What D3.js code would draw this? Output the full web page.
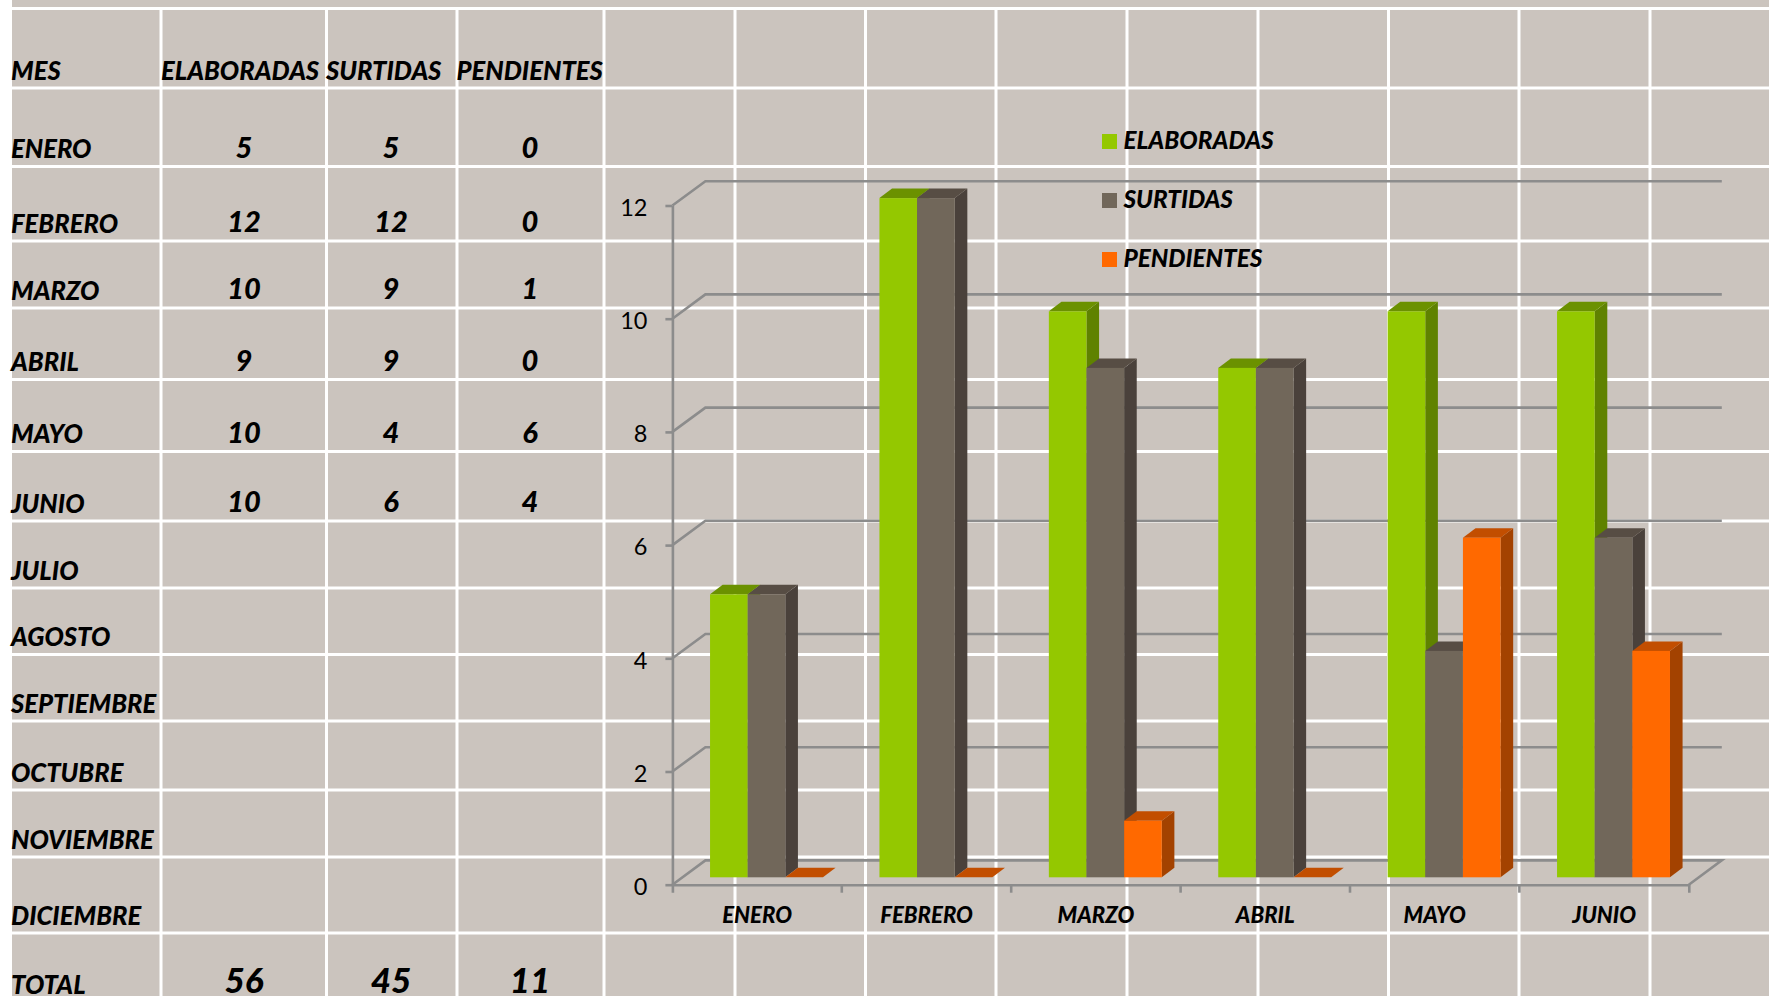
<!DOCTYPE html>
<html>

<head>
    <meta charset="utf-8" />
    <title>Ordenes por mes</title>
    <script src="https://cdn.jsdelivr.net/npm/d3@7"></script>
    <style>
        body { margin: 0; background: #fff; }
        svg { display: block; }
        text { font-family: Lato, "Open Sans", sans-serif; fill: #000; }
        .bi { font-weight: 900; font-style: italic; }
        .axis path, .axis line { stroke: #8c8c8c; stroke-width: 2.6; }
        .axis text { font-size: 23.5px; }
    </style>
</head>

<body>
    <script type="text/javascript">
        // table and chart data
        const meses = ["ENERO", "FEBRERO", "MARZO", "ABRIL", "MAYO", "JUNIO", "JULIO", "AGOSTO", "SEPTIEMBRE", "OCTUBRE", "NOVIEMBRE", "DICIEMBRE"];
        const mesesGrafica = ["ENERO", "FEBRERO", "MARZO", "ABRIL", "MAYO", "JUNIO"];
        const columnas = ["ELABORADAS", "SURTIDAS", "PENDIENTES"];
        const elaboradas = [5, 12, 10, 9, 10, 10];
        const surtidas = [5, 12, 9, 9, 4, 6];
        const pendientes = [0, 0, 1, 0, 6, 4];
        const totales = [56, 45, 11];
        const yTicks = [0, 2, 4, 6, 8, 10, 12];

        // sheet layout
        const width = 1769, height = 996;
        const rowLines = [8.5, 88, 166.5, 241, 308, 379.5, 451.5, 521, 588, 654.5, 721, 790, 857, 933];
        const colLines = [161, 326.5, 457, 604, 735, 865.5, 996, 1127, 1258, 1388.5, 1519, 1650];
        const colCenters = [244, 391, 530];
        const sheetLeft = 12;

        const series = [
            { values: elaboradas, front: "#94c800", top: "#6b9100", side: "#5f8200" },
            { values: surtidas, front: "#71675a", top: "#574d44", side: "#4a413b" },
            { values: pendientes, front: "#ff6900", top: "#c24e00", side: "#a34200" }
        ];

        const svg = d3.select("body").append("svg")
            .attr("width", width)
            .attr("height", height);

        svg.append("rect")
            .attr("x", sheetLeft)
            .attr("width", width - sheetLeft)
            .attr("height", height)
            .attr("fill", "#cbc4be");

        const sheetG = svg.append("g")
            .attr("stroke", "#fff")
            .attr("stroke-width", 3);

        sheetG.selectAll("line.row")
            .data(rowLines)
            .enter().append("line")
            .attr("class", "row")
            .attr("x1", sheetLeft).attr("x2", width)
            .attr("y1", d => d).attr("y2", d => d);

        sheetG.selectAll("line.col")
            .data(colLines)
            .enter().append("line")
            .attr("class", "col")
            .attr("x1", d => d).attr("x2", d => d)
            .attr("y1", rowLines[0]).attr("y2", height);

        // table text, baseline sits a little above the next row line
        const rowBase = i => (i + 1 < rowLines.length ? rowLines[i + 1] : 1002);

        const renderLabel = (txt, i) => svg.append("text")
            .attr("class", "bi")
            .attr("x", 11)
            .attr("y", rowBase(i) - 8.3)
            .attr("font-size", 25.6)
            .text(txt);

        renderLabel("MES", 0);
        meses.forEach((m, i) => renderLabel(m, i + 1));
        renderLabel("TOTAL", 13);

        const headerX = [161, 326, 456.5];
        columnas.forEach((c, i) => {
            svg.append("text")
                .attr("class", "bi")
                .attr("x", headerX[i])
                .attr("y", rowBase(0) - 8.3)
                .attr("font-size", 25.6)
                .text(c);
        });

        series.forEach((s, c) => {
            s.values.forEach((v, i) => {
                svg.append("text")
                    .attr("class", "bi")
                    .attr("x", colCenters[c])
                    .attr("y", rowBase(i + 1) - 9)
                    .attr("text-anchor", "middle")
                    .attr("font-size", 29)
                    .text(v);
            });
        });

        totales.forEach((t, c) => {
            svg.append("text")
                .attr("class", "bi")
                .attr("x", colCenters[c])
                .attr("y", 993)
                .attr("text-anchor", "middle")
                .attr("font-size", 35)
                .text(t);
        });

        // chart frame
        const frame = { left: 672.4, right: 1688.8, bottom: 884.7, top: 205.5 };
        const floorDepth = { x: 33, y: 24.3 };
        const barLift = 7.4;
        const barDepth = { x: 12.6, y: 9.5 };

        const y = d3.scaleLinear().domain([0, 12]).range([frame.bottom, frame.top]);

        const x0 = d3.scaleBand()
            .domain(mesesGrafica)
            .range([frame.left, frame.right]);

        const x1 = d3.scaleBand()
            .domain(d3.range(series.length))
            .range([0, x0.bandwidth() * 2 / 3])
            .paddingInner(0);

        const gridG = svg.append("g")
            .attr("fill", "none")
            .attr("stroke", "#8c8c8c")
            .attr("stroke-width", 2.6);

        gridG.selectAll("path.grid")
            .data(yTicks)
            .enter().append("path")
            .attr("class", "grid")
            .attr("d", d => {
                const p = d3.path();
                p.moveTo(frame.left, y(d));
                p.lineTo(frame.left + floorDepth.x, y(d) - floorDepth.y);
                p.lineTo(frame.right + floorDepth.x, y(d) - floorDepth.y);
                if (d === 0) {
                    p.lineTo(frame.right, y(d));
                }
                return p.toString();
            });

        const yAxisG = svg.append("g")
            .attr("class", "axis")
            .attr("transform", `translate(${frame.left}, 0)`)
            .call(d3.axisLeft(y).tickValues(yTicks).tickSize(7).tickPadding(18).tickSizeOuter(0));

        yAxisG.selectAll("text").attr("dy", "0.42em");

        const xAxisG = svg.append("g")
            .attr("class", "axis")
            .attr("transform", `translate(0, ${frame.bottom})`)
            .call(d3.axisBottom(x0).tickSize(0).tickPadding(0).tickSizeOuter(8));

        xAxisG.selectAll("text")
            .attr("class", "bi")
            .attr("y", 38)
            .attr("dy", 0)
            .style("font-size", "22.2px");

        // separators between categories
        xAxisG.selectAll("line.sep")
            .data(mesesGrafica.slice(1))
            .enter().append("line")
            .attr("class", "sep")
            .attr("x1", d => x0(d)).attr("x2", d => x0(d))
            .attr("y1", 0).attr("y2", 8);

        // 3d bars: front face, top face, side face
        const poly = pts => "M" + pts.map(p => p.join(",")).join("L") + "Z";

        const barsG = svg.append("g");

        mesesGrafica.forEach((m, i) => {
            const groupG = barsG.append("g");
            const groupLeft = x0(m) + x0.bandwidth() * 2 / 9;

            series.forEach((s, c) => {
                const xa = groupLeft + x1(c),
                    xb = xa + x1.bandwidth(),
                    yTop = y(s.values[i]) - barLift,
                    yBase = y(0) - barLift,
                    dx = barDepth.x,
                    dy = barDepth.y;

                groupG.append("path")
                    .attr("fill", s.side)
                    .attr("d", poly([[xb, yTop], [xb + dx, yTop - dy], [xb + dx, yBase - dy], [xb, yBase]]));
                groupG.append("path")
                    .attr("fill", s.top)
                    .attr("d", poly([[xa, yTop], [xa + dx, yTop - dy], [xb + dx, yTop - dy], [xb, yTop]]));
                groupG.append("rect")
                    .attr("x", xa)
                    .attr("y", yTop)
                    .attr("width", xb - xa)
                    .attr("height", yBase - yTop)
                    .attr("fill", s.front);
            });
        });

        // legend
        const legendY = d3.scalePoint().domain(columnas).range([141.5, 259.5]);

        const legendG = svg.selectAll("g.legend")
            .data(series)
            .enter().append("g")
            .attr("class", "legend")
            .attr("transform", (d, i) => `translate(1102, ${legendY(columnas[i])})`);

        legendG.append("rect")
            .attr("y", -7.5)
            .attr("width", 15)
            .attr("height", 15)
            .attr("fill", d => d.front);

        legendG.append("text")
            .attr("class", "bi")
            .attr("x", 21.5)
            .attr("y", 7.5)
            .attr("font-size", 24.3)
            .text((d, i) => columnas[i]);
    </script>
</body>

</html>
